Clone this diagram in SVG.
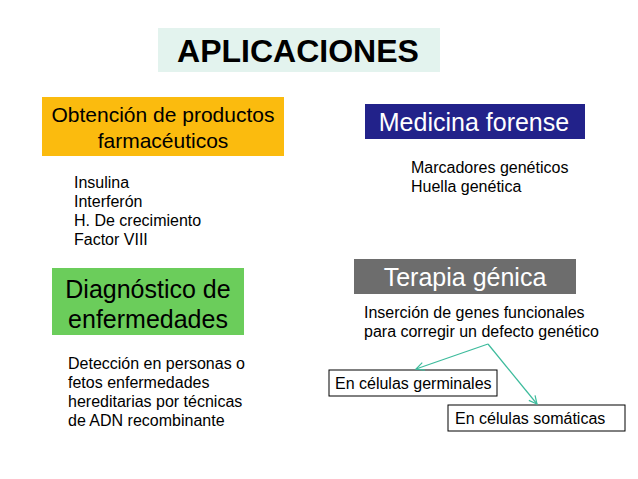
<svg xmlns="http://www.w3.org/2000/svg" width="638" height="479" viewBox="0 0 638 479">
<style>
text{font-family:"Liberation Sans",Arial,sans-serif;fill:#000}
.s{font-size:16px}
.b{font-size:21px}
.c{stroke:#3dbb9c;stroke-width:1.2;fill:none}
</style>
<defs><marker id="a" markerWidth="10" markerHeight="10" refX="9" refY="5" orient="auto" markerUnits="userSpaceOnUse"><path d="M1,1 L9,5 L1,9" fill="none" stroke="#3dbb9c" stroke-width="1.2"/></marker></defs>
<rect width="638" height="479" fill="#fff"/>
<g id="title"><rect x="158" y="28" width="282" height="44" fill="#e3f3ee"/><text x="298" y="62" font-size="32" font-weight="bold" text-anchor="middle">APLICACIONES</text></g>
<g id="farma"><rect x="42" y="97" width="242" height="59" fill="#fbbb0e"/><text class="b" x="163" y="122" text-anchor="middle">Obtención de productos</text><text class="b" x="163" y="148" text-anchor="middle">farmacéuticos</text></g>
<g id="farma-list"><text class="s" x="74" y="188">Insulina</text><text class="s" x="74" y="207">Interferón</text><text class="s" x="74" y="226">H. De crecimiento</text><text class="s" x="74" y="245">Factor VIII</text></g>
<g id="forense"><rect x="365" y="104" width="220" height="35" fill="#22228a"/><text x="474" y="131" font-size="25" style="fill:#fff" text-anchor="middle">Medicina forense</text></g>
<g id="forense-list"><text class="s" x="411" y="173">Marcadores genéticos</text><text class="s" x="411" y="192">Huella genética</text></g>
<g id="diag"><rect x="52" y="268" width="192" height="67" fill="#6bcd5b"/><text x="148" y="298" font-size="25" text-anchor="middle">Diagnóstico de</text><text x="148" y="328" font-size="25" text-anchor="middle">enfermedades</text></g>
<g id="diag-list"><text class="s" x="68" y="369">Detección en personas o</text><text class="s" x="68" y="388">fetos enfermedades</text><text class="s" x="68" y="407">hereditarias por técnicas</text><text class="s" x="68" y="426">de ADN recombinante</text></g>
<g id="terapia"><rect x="354" y="259" width="222" height="35" fill="#6d6d6d"/><text x="465" y="286" font-size="25" style="fill:#fff" text-anchor="middle">Terapia génica</text></g>
<g id="terapia-list"><text class="s" x="364" y="318">Inserción de genes funcionales</text><text class="s" x="364" y="337">para corregir un defecto genético</text></g>
<g id="germ"><rect x="329" y="370" width="168" height="26" fill="#fff" stroke="#000"/><text class="s" x="335" y="389">En células germinales</text></g>
<g id="soma"><rect x="448" y="405" width="177" height="26" fill="#fff" stroke="#000"/><text class="s" x="455" y="424">En células somáticas</text></g>
<g id="connectors"><path class="c" d="M488,344 L416,369" marker-end="url(#a)"/><path class="c" d="M488,344 L537,404" marker-end="url(#a)"/></g>
</svg>
